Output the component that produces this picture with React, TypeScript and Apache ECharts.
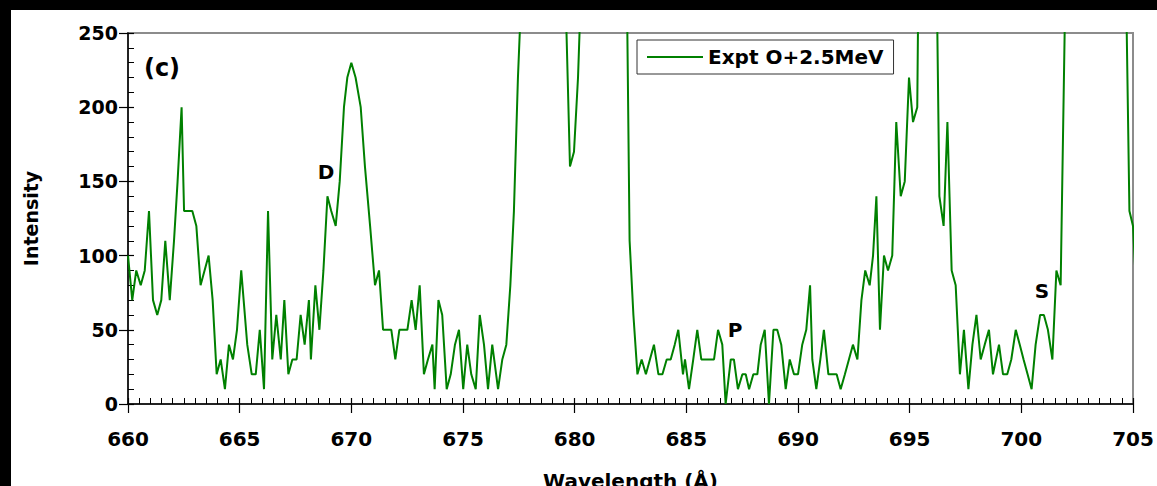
import { useEffect, useRef } from "react";
import * as echarts from "echarts";

// Spectrum: wavelength (Å) and measured intensity (counts)
const wavelengths = [
  660.0, 660.19, 660.37, 660.57, 660.75, 660.94, 661.12, 661.31, 661.49, 661.67,
  661.87, 662.06, 662.22, 662.4, 662.51, 662.7, 662.88, 663.06, 663.25, 663.61,
  663.79, 663.97, 664.15, 664.34, 664.52, 664.7, 664.88, 665.07, 665.34, 665.54,
  665.72, 665.9, 666.09, 666.27, 666.46, 666.64, 666.84, 667.0, 667.18, 667.36,
  667.55, 667.73, 667.91, 668.1, 668.19, 668.39, 668.57, 668.75, 668.93, 669.1,
  669.3, 669.48, 669.67, 669.82, 670.0, 670.19, 670.42, 670.61, 670.84, 671.06,
  671.24, 671.42, 671.61, 671.79, 671.97, 672.15, 672.33, 672.51, 672.7, 672.88,
  673.06, 673.25, 673.43, 673.63, 673.73, 673.9, 674.07, 674.27, 674.45, 674.64,
  674.82, 675.01, 675.19, 675.37, 675.57, 675.75, 675.94, 676.12, 676.31, 676.57,
  676.76, 676.94, 677.12, 677.28, 677.46, 677.65, 677.85, 678.1, 678.6, 679.0,
  679.3, 679.45, 679.6, 679.79, 679.97, 680.15, 680.33, 680.5, 681.0, 681.5,
  682.0, 682.28, 682.46, 682.63, 682.81, 683.0, 683.19, 683.37, 683.55, 683.75,
  683.93, 684.12, 684.3, 684.48, 684.64, 684.85, 684.94, 685.12, 685.31, 685.49,
  685.67, 685.87, 686.04, 686.24, 686.42, 686.61, 686.76, 686.99, 687.13, 687.31,
  687.51, 687.66, 687.81, 688.0, 688.18, 688.33, 688.51, 688.7, 688.9, 689.07,
  689.25, 689.45, 689.63, 689.82, 690.0, 690.19, 690.37, 690.54, 690.64, 690.82,
  691.0, 691.16, 691.36, 691.54, 691.73, 691.91, 692.1, 692.28, 692.46, 692.66,
  692.84, 693.01, 693.21, 693.36, 693.51, 693.67, 693.85, 694.03, 694.22, 694.4,
  694.6, 694.78, 694.97, 695.15, 695.34, 695.52, 695.7, 695.9, 696.05, 696.15,
  696.33, 696.52, 696.69, 696.88, 697.06, 697.25, 697.43, 697.63, 697.81, 697.99,
  698.18, 698.36, 698.55, 698.73, 699.0, 699.18, 699.37, 699.55, 699.75, 699.93,
  700.1, 700.28, 700.46, 700.64, 700.84, 701.01, 701.19, 701.39, 701.57, 701.76,
  701.95, 702.2, 702.8, 703.5, 704.2, 704.4, 704.6, 704.84, 705.0, 705.2,
];

const intensities = [
  100, 70, 90, 80, 90, 130, 70, 60, 70, 110,
  70, 110, 150, 200, 130, 130, 130, 120, 80, 100,
  70, 20, 30, 10, 40, 30, 50, 90, 40, 20,
  20, 50, 10, 130, 30, 60, 30, 70, 20, 30,
  30, 60, 40, 70, 30, 80, 50, 90, 140, 130,
  120, 150, 200, 220, 230, 220, 200, 160, 120, 80,
  90, 50, 50, 50, 30, 50, 50, 50, 70, 50,
  80, 20, 30, 40, 10, 70, 60, 10, 20, 40,
  50, 10, 40, 20, 10, 60, 40, 10, 40, 10,
  30, 40, 80, 130, 220, 290, 700, 1200, 1800, 1300,
  700, 400, 270, 160, 170, 220, 300, 600, 1500, 1400,
  800, 360, 110, 60, 20, 30, 20, 30, 40, 20,
  20, 30, 30, 40, 50, 20, 30, 10, 30, 50,
  30, 30, 30, 30, 50, 40, 0, 30, 30, 10,
  20, 20, 10, 20, 20, 40, 50, 0, 50, 50,
  40, 10, 30, 20, 20, 40, 50, 80, 30, 10,
  30, 50, 20, 20, 20, 10, 20, 30, 40, 30,
  70, 90, 80, 100, 140, 50, 100, 90, 100, 190,
  140, 150, 220, 190, 200, 500, 1500, 1200, 600, 360,
  140, 120, 190, 90, 80, 20, 50, 10, 40, 60,
  30, 40, 50, 20, 40, 20, 20, 30, 50, 40,
  30, 20, 10, 40, 60, 60, 50, 30, 90, 80,
  260, 800, 2500, 2800, 1500, 800, 370, 130, 120, 60,
];

const seriesName = "Expt O+2.5MeV";
const xRange = { min: 660, max: 705, step: 5 };
const yRange = { min: 0, max: 250, step: 50 };
const lineLabels = [
  { text: "D", x: 315, y: 162 },
  { text: "P", x: 724, y: 320 },
  { text: "S", x: 1031, y: 281 },
];

const FONT = '"DejaVu Sans", "Liberation Sans", Arial, sans-serif';
const CHART_W = 1146;
const CHART_H = 476;

export default function App() {
  const ref = useRef<HTMLDivElement>(null);

  useEffect(() => {
    if (!ref.current) return;
    const chart = echarts.init(ref.current, undefined, {
      renderer: "svg",
      width: CHART_W,
      height: CHART_H,
    });

    const points = wavelengths.map((w, i) => [w, intensities[i]]);
    const grid = { left: 117, top: 23, right: 24, bottom: 82 };

    const baseX = {
      type: "value" as const,
      min: xRange.min,
      max: xRange.max,
      interval: xRange.step,
      position: "bottom" as const,
      splitLine: { show: false },
    };
    const baseY = {
      type: "value" as const,
      min: yRange.min,
      max: yRange.max,
      interval: yRange.step,
      position: "left" as const,
      splitLine: { show: false },
    };

    chart.setOption({
      animation: false,
      backgroundColor: "#ffffff",
      grid: {
        ...grid,
        outerBoundsMode: "none",
        containLabel: false,
        show: true,
        borderColor: "#8c8c8c",
        borderWidth: 2,
        backgroundColor: "transparent",
      },
      legend: {
        left: 626,
        top: 30,
        padding: [7, 10, 7, 10],
        itemWidth: 56,
        itemHeight: 2,
        borderColor: "#333333",
        borderWidth: 1,
        borderRadius: 0,
        backgroundColor: "#ffffff",
        selectedMode: false,
        textStyle: {
          fontFamily: FONT,
          fontWeight: "bold",
          fontSize: 20,
          color: "#000000",
        },
        data: [{ name: seriesName, icon: "rect", itemStyle: { color: "#008000" } }],
      },
      xAxis: [
        {
          ...baseX,
          name: "Wavelength (Å)",
          nameLocation: "middle",
          nameGap: 67,
          nameTextStyle: {
            fontFamily: FONT,
            fontWeight: "bold",
            fontSize: 20,
            color: "#000000",
          },
          axisLine: { show: true, lineStyle: { color: "#000000", width: 1.5 } },
          axisTick: { show: true, inside: false, length: 9, lineStyle: { color: "#000000", width: 1.2 } },
          minorTick: { show: false },
          axisLabel: {
            margin: 25,
            fontFamily: FONT,
            fontWeight: "bold",
            fontSize: 20,
            color: "#000000",
          },
        },
        {
          ...baseX,
          axisLine: { show: false },
          axisLabel: { show: false },
          axisTick: { show: true, inside: true, length: 6, lineStyle: { color: "#000000", width: 1.2 } },
          minorTick: { show: true, splitNumber: 10, length: 6, lineStyle: { color: "#000000", width: 1 } },
        },
      ],
      yAxis: [
        {
          ...baseY,
          name: "Intensity",
          nameLocation: "middle",
          nameGap: 88,
          nameTextStyle: {
            fontFamily: FONT,
            fontWeight: "bold",
            fontSize: 19,
            color: "#000000",
          },
          axisLine: { show: true, lineStyle: { color: "#000000", width: 1.5 } },
          axisTick: { show: true, inside: false, length: 9, lineStyle: { color: "#000000", width: 1.2 } },
          minorTick: { show: false },
          axisLabel: {
            margin: 10,
            fontFamily: FONT,
            fontWeight: "bold",
            fontSize: 19,
            color: "#000000",
          },
        },
        {
          ...baseY,
          axisLine: { show: false },
          axisLabel: { show: false },
          axisTick: { show: true, inside: true, length: 6, lineStyle: { color: "#000000", width: 1.2 } },
          minorTick: { show: true, splitNumber: 5, length: 6, lineStyle: { color: "#000000", width: 1 } },
        },
      ],
      series: [
        {
          name: seriesName,
          type: "line",
          xAxisIndex: 0,
          yAxisIndex: 0,
          data: points,
          symbol: "none",
          clip: true,
          lineStyle: { color: "#008000", width: 2 },
          itemStyle: { color: "#008000" },
          z: 3,
        },
      ],
      graphic: [
        {
          type: "text",
          x: 151,
          y: 58,
          z: 10,
          style: {
            text: "(c)",
            fontFamily: FONT,
            fontWeight: "bold",
            fontSize: 24,
            fill: "#000000",
            align: "center",
            verticalAlign: "middle",
          },
        },
        ...lineLabels.map((l) => ({
          type: "text" as const,
          x: l.x,
          y: l.y,
          z: 10,
          style: {
            text: l.text,
            fontFamily: FONT,
            fontWeight: "bold",
            fontSize: 20,
            fill: "#000000",
            align: "center",
            verticalAlign: "middle",
          },
        })),
      ],
    });

    return () => chart.dispose();
  }, []);

  return (
    <div
      style={{
        position: "fixed",
        left: 0,
        top: 0,
        width: 1157,
        height: 486,
        background: "#000000",
        overflow: "hidden",
      }}
    >
      <div
        ref={ref}
        style={{
          position: "absolute",
          left: 11,
          top: 10,
          width: CHART_W,
          height: CHART_H,
          overflow: "hidden",
        }}
      />
    </div>
  );
}
